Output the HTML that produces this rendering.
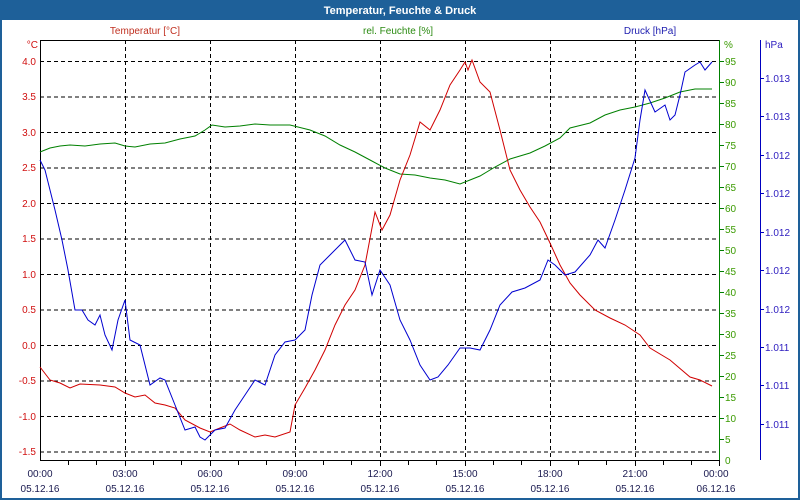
<!DOCTYPE html>
<html><head><meta charset="utf-8"><style>
html,body{margin:0;padding:0;background:#fff}
svg{display:block;font-family:"Liberation Sans",sans-serif}
</style></head><body>
<svg width="800" height="500" viewBox="0 0 800 500" xmlns="http://www.w3.org/2000/svg">
<rect x="0" y="0" width="800" height="500" fill="#1e6099"/>
<rect x="2" y="20" width="796" height="478" fill="#fff"/>
<text x="400" y="14" text-anchor="middle" font-size="11" font-weight="bold" fill="#fff">Temperatur, Feuchte &amp; Druck</text>
<text x="145" y="34" text-anchor="middle" font-size="10" fill="#c03020">Temperatur [°C]</text>
<text x="398" y="34" text-anchor="middle" font-size="10" fill="#2a8a10">rel. Feuchte [%]</text>
<text x="650" y="34" text-anchor="middle" font-size="10" fill="#2020b0">Druck [hPa]</text>
<g stroke="#000" stroke-width="1" stroke-dasharray="4,3" fill="none">
<path d="M40 61.5H720M40 97H720M40 132.5H720M40 168H720M40 203.5H720M40 239H720M40 274.5H720M40 310H720M40 345.5H720M40 381H720M40 416.5H720M40 452H720"/>
<path d="M125.5 40V460M210.5 40V460M295.5 40V460M380.5 40V460M465.5 40V460M550.5 40V460M635.5 40V460"/>
</g>
<path d="M40.5 40V460.5H720M40 40.5H720" stroke="#000" fill="none"/>
<path d="M719.5 40V460" stroke="#008000" fill="none"/>
<path d="M760.5 40V460" stroke="#0000c0" fill="none"/>
<g stroke="#000"><path d="M68.5 460V465M96.5 460V465M125.5 460V466M153.5 460V465M181.5 460V465M210.5 460V466M238.5 460V465M266.5 460V465M295.5 460V466M323.5 460V465M351.5 460V465M380.5 460V466M408.5 460V465M436.5 460V465M465.5 460V466M493.5 460V465M521.5 460V465M550.5 460V466M578.5 460V465M606.5 460V465M635.5 460V466M663.5 460V465M691.5 460V465M719.5 460V466"/></g>
<g font-size="10" fill="#d01010" text-anchor="end">
<text x="38" y="48">°C</text>
<text x="36" y="65">4.0</text><text x="36" y="100">3.5</text><text x="36" y="136">3.0</text><text x="36" y="171">2.5</text><text x="36" y="207">2.0</text><text x="36" y="242">1.5</text><text x="36" y="278">1.0</text><text x="36" y="313">0.5</text><text x="36" y="349">0.0</text><text x="36" y="384">-0.5</text><text x="36" y="420">-1.0</text><text x="36" y="455">-1.5</text>
</g>
<g font-size="10" fill="#3a9a00">
<g stroke="#008000"><path d="M720 61.5h4M720 82.5h4M720 103.5h4M720 124.5h4M720 145.5h4M720 166.5h4M720 187.5h4M720 208.5h4M720 229.5h4M720 250.5h4M720 271.5h4M720 292.5h4M720 313.5h4M720 334.5h4M720 355.5h4M720 376.5h4M720 397.5h4M720 418.5h4M720 439.5h4"/></g>
<text x="724" y="48">%</text>
<text x="725" y="65">95</text><text x="725" y="86">90</text><text x="725" y="107">85</text><text x="725" y="128">80</text><text x="725" y="149">75</text><text x="725" y="170">70</text><text x="725" y="191">65</text><text x="725" y="212">60</text><text x="725" y="233">55</text><text x="725" y="254">50</text><text x="725" y="275">45</text><text x="725" y="296">40</text><text x="725" y="317">35</text><text x="725" y="338">30</text><text x="725" y="359">25</text><text x="725" y="380">20</text><text x="725" y="401">15</text><text x="725" y="422">10</text><text x="725" y="443">5</text><text x="725" y="464">0</text>
</g>
<g font-size="10" fill="#3020c0">
<g stroke="#0000c0"><path d="M760 78.5h4M760 116.5h4M760 155.5h4M760 193.5h4M760 232.5h4M760 270.5h4M760 309.5h4M760 347.5h4M760 385.5h4M760 424.5h4"/></g>
<text x="765" y="48">hPa</text>
<text x="765" y="82">1.013</text><text x="765" y="120">1.013</text><text x="765" y="159">1.012</text><text x="765" y="197">1.012</text><text x="765" y="236">1.012</text><text x="765" y="274">1.012</text><text x="765" y="313">1.012</text><text x="765" y="351">1.011</text><text x="765" y="389">1.011</text><text x="765" y="428">1.011</text>
</g>
<g font-size="10" fill="#1a1a50" text-anchor="middle">
<text x="40" y="477">00:00</text><text x="40" y="492">05.12.16</text>
<text x="125" y="477">03:00</text><text x="125" y="492">05.12.16</text>
<text x="210" y="477">06:00</text><text x="210" y="492">05.12.16</text>
<text x="295" y="477">09:00</text><text x="295" y="492">05.12.16</text>
<text x="380" y="477">12:00</text><text x="380" y="492">05.12.16</text>
<text x="465" y="477">15:00</text><text x="465" y="492">05.12.16</text>
<text x="550" y="477">18:00</text><text x="550" y="492">05.12.16</text>
<text x="635" y="477">21:00</text><text x="635" y="492">05.12.16</text>
<text x="716" y="477">00:00</text><text x="716" y="492">06.12.16</text>
</g>
<polyline fill="none" stroke="#008000" stroke-width="1" points="40,152 50,148 60,146 70,145 85,146 100,144 115,143 125,146 135,147 150,144 165,143 180,139 195,136 205,130 212,125 225,127 240,126 255,124 270,125 290,125 310,130 325,136 340,145 355,152 370,160 385,168 400,174 415,175 430,178 445,180 460,184 470,180 480,176 495,167 510,159 530,153 545,146 560,138 570,128 590,123 605,115 620,110 635,107 650,103 665,98 680,92 695,89 712,89"/>
<polyline fill="none" stroke="#d00000" stroke-width="1" points="40,367 50,380 60,383 70,388 80,384 100,385 115,387 125,393 135,397 145,395 155,403 165,405 175,408 185,420 200,428 210,432 220,428 230,424 240,430 255,437 265,435 275,437 290,432 295,405 305,388 315,370 325,350 335,325 345,305 355,290 365,265 375,212 382,230 390,215 400,180 410,155 420,122 430,130 440,110 450,85 460,70 465,62 468,70 472,60 480,82 490,92 500,130 510,170 520,190 530,207 540,222 550,243 560,265 570,283 580,295 595,310 610,318 625,325 640,335 650,348 670,360 690,377 700,380 712,386"/>
<polyline fill="none" stroke="#0000d0" stroke-width="1" points="40,160 45,170 55,210 62,240 68,270 75,310 82,310 88,320 95,325 100,315 105,335 112,350 118,320 125,300 130,340 140,345 150,385 160,378 165,380 175,405 185,430 195,427 200,437 205,440 215,430 225,428 235,410 245,395 255,380 265,385 275,355 285,342 295,340 305,330 312,295 320,265 330,255 345,240 355,260 365,262 372,295 380,270 390,285 400,320 410,340 420,365 430,380 438,377 448,365 460,348 470,348 480,350 490,330 500,305 512,292 525,288 540,280 548,260 555,265 565,275 575,272 590,255 598,240 605,248 615,220 625,190 635,158 640,120 645,90 655,112 665,105 670,120 675,115 680,95 685,72 695,65 700,62 705,70 712,62"/>
</svg>
</body></html>
